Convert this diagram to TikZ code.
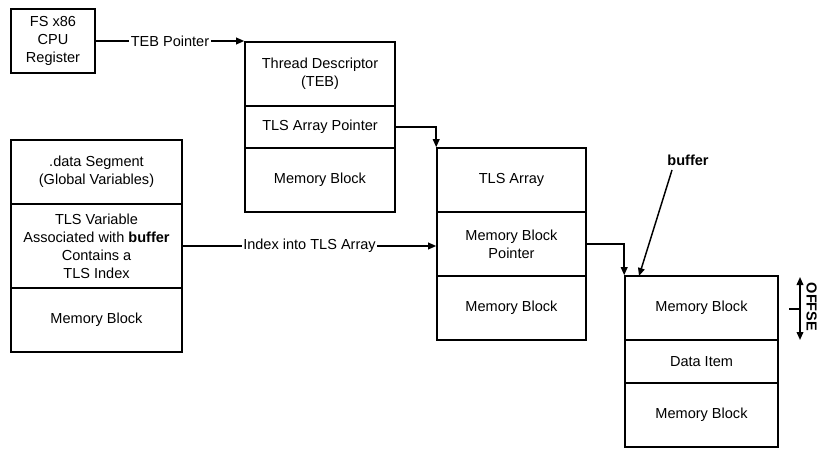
\documentclass[tikz,border=0pt]{standalone}
\usepackage{fontspec}
\setmainfont{Liberation Sans}
\usetikzlibrary{arrows.meta,calc}
\begin{document}
\begin{tikzpicture}[x=0.75pt,y=-0.75pt,
  every node/.style={font=\fontsize{10.9}{13.5}\selectfont},
  cell/.style 2 args={draw, line width=1.2pt, minimum width=#1, minimum height=#2, inner sep=1pt, align=center},
  conn/.style={line width=1.1pt, -{Triangle[length=6pt,width=5pt]}},
  lbl/.style={fill=white, inner sep=1pt}]
\useasboundingbox (0,0) rectangle (817,449);
% FS register
\node[cell={63pt}{48pt}] (fs) at (53,41) {FS x86\\CPU\\Register};
% TEB
\node[cell={112.5pt}{48pt}] (teb1) at (320,74) {Thread Descriptor\\(TEB)};
\node[cell={112.5pt}{31.5pt}] (teb2) at (320,127) {TLS Array Pointer};
\node[cell={112.5pt}{48pt}] (teb3) at (320,180) {Memory Block};
% data segment
\node[cell={128.25pt}{48pt}] (data1) at (96.5,172) {.data Segment\\(Global Variables)};
\node[cell={128.25pt}{63pt}] (data2) at (96.5,246) {TLS Variable\\Associated with \textbf{buffer}\\Contains a\\TLS Index};
\node[cell={128.25pt}{48pt}] (data3) at (96.5,320) {Memory Block};
% TLS array
\node[cell={111.75pt}{48pt}] (tls1) at (511.5,180) {TLS Array};
\node[cell={111.75pt}{48pt}] (tls2) at (511.5,244) {Memory Block\\Pointer};
\node[cell={111.75pt}{48pt}] (tls3) at (511.5,308) {Memory Block};
% last block
\node[cell={114.75pt}{48pt}] (mem1) at (701.5,308) {Memory Block};
\node[cell={114.75pt}{32.25pt}] (mem2) at (701.5,361.5) {Data Item};
\node[cell={114.75pt}{48pt}] (mem3) at (701.5,415) {Memory Block};
% connectors
\draw[conn] (fs.east) -- node[lbl] {TEB Pointer} (fs.east -| teb1.west);
\draw[conn] (teb2.east) -| (tls1.north west);
\draw[conn] (data2.east) -- node[lbl] {Index into TLS Array} (data2.east -| tls2.west);
\draw[conn] (tls2.east) -| (mem1.north west);
% buffer
\node[font=\fontsize{10.9}{13.5}\selectfont\bfseries] (buf) at (688,160) {buffer};
\coordinate (bufstart) at (672,170);
\coordinate (buftip) at (639,276);
\draw[conn] (bufstart) -- (buftip);
% offset
\coordinate (offtop) at (800,277);
\coordinate (offbot) at (800,340);
\coordinate (offmid) at (800,309);
\coordinate (offtick) at (789,309);
\draw[line width=1.1pt, {Triangle[length=6pt,width=5pt]}-{Triangle[length=6pt,width=5pt]}] (offtop) -- (offbot);
\draw[line width=1.1pt] (offtick) -- (offmid);
\node[font=\fontsize{10.9}{13.5}\selectfont\bfseries, rotate=-90, inner sep=0pt] (off) at (811.5,307) {OFFSE};
\end{tikzpicture}
\end{document}
